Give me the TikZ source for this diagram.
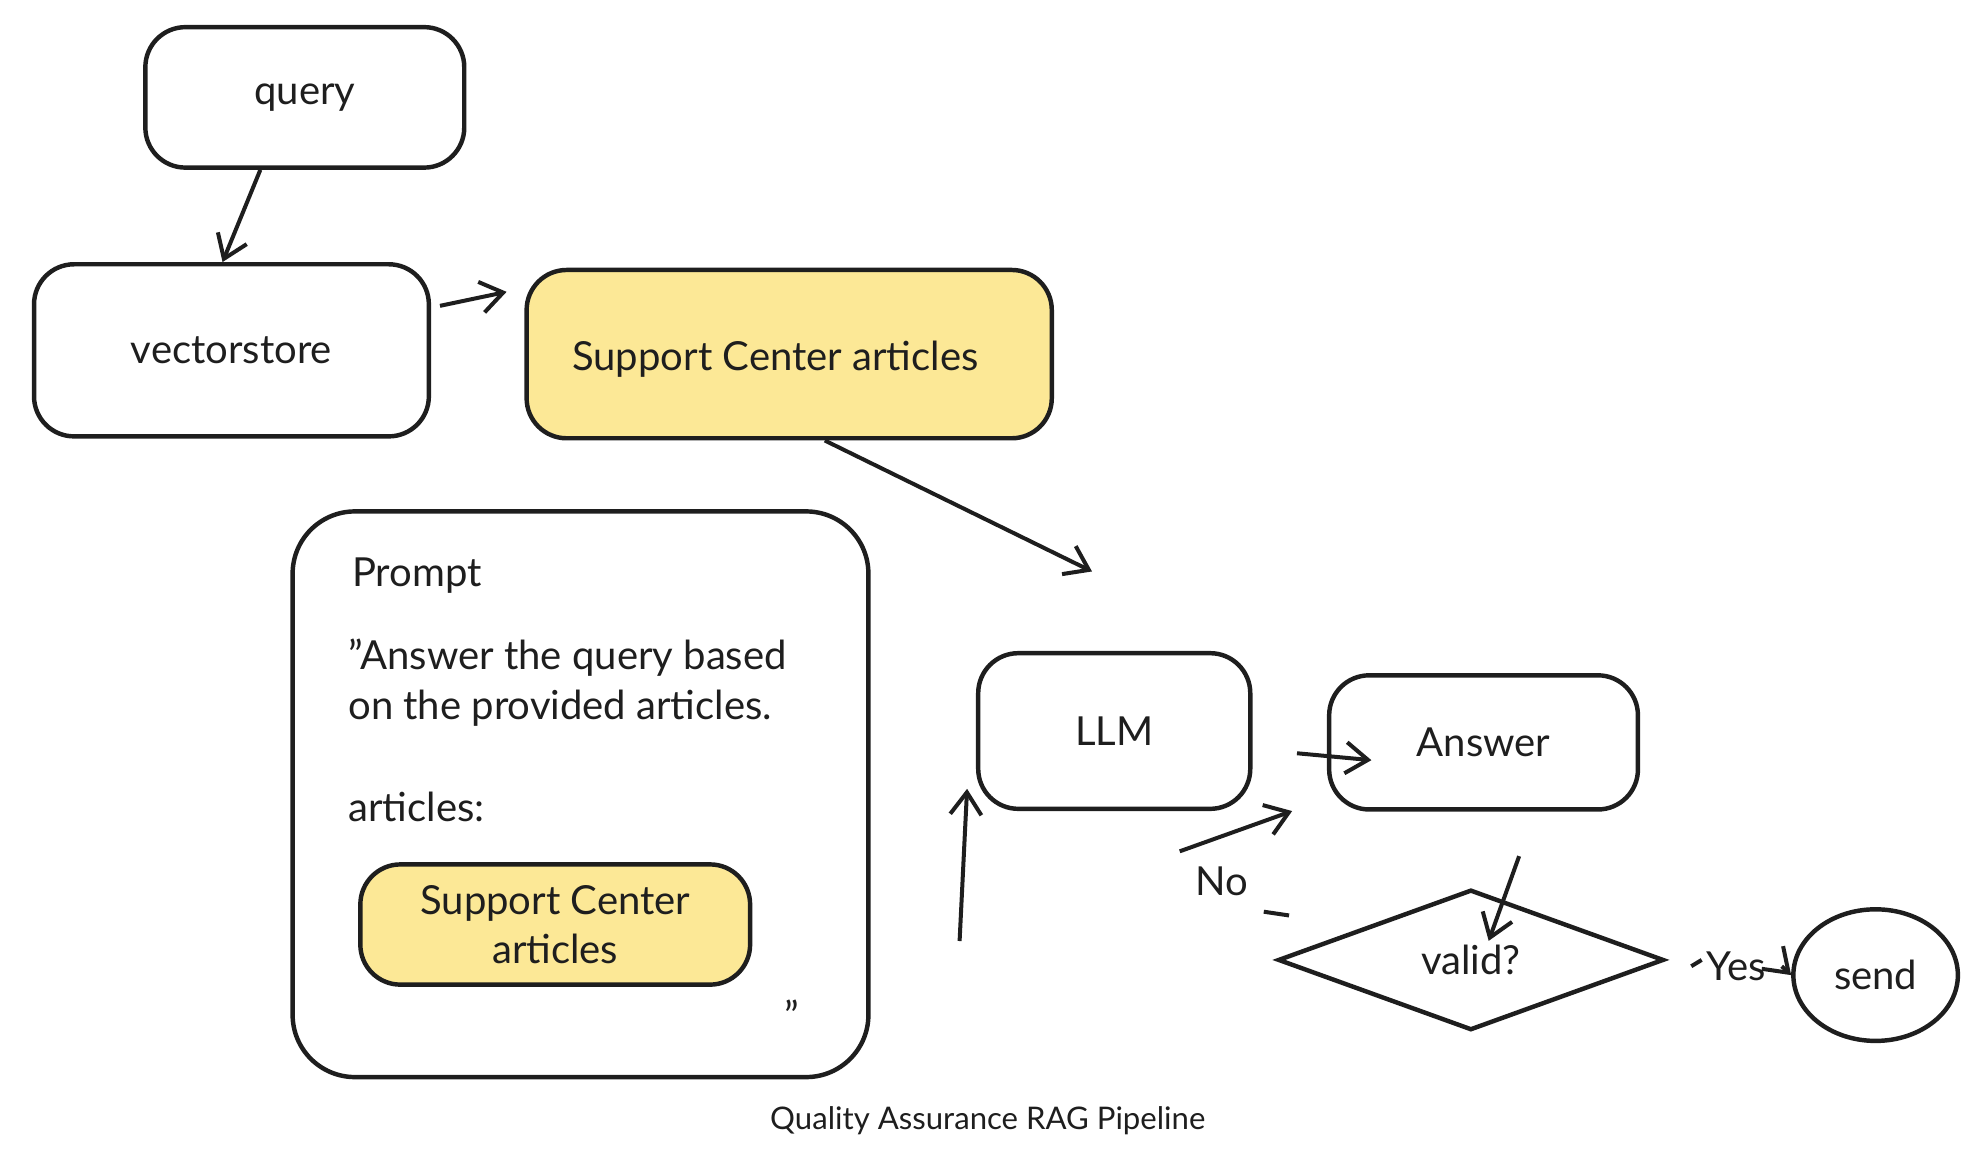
\documentclass[tikz,border=0pt]{standalone}
\usepackage{fontspec}
\setmainfont{Lato}
\usetikzlibrary{shapes.geometric,arrows.meta}
\definecolor{yel}{HTML}{FCE896}
\definecolor{ink}{HTML}{1E1E1E}
\begin{document}
\begin{tikzpicture}[x=0.01cm,y=-0.01cm,
  box/.style={draw=ink,line width=1pt,rounded corners=9pt,inner sep=0pt},
  txt/.style={font=\fontsize{9}{11}\selectfont,text=ink},
  arr/.style={draw=ink,line width=0.9pt,-{Straight Barb[length=5pt,width=7pt]}},
  ln/.style={draw=ink,line width=0.9pt}]
\useasboundingbox (0,0) rectangle (1560,910);
\node[box,minimum width=2.52cm,minimum height=1.11cm] (query) at (241,77) {};
\node[txt] at (query) {query};
\node[box,minimum width=3.12cm,minimum height=1.36cm] (vs) at (183,277) {};
\node[txt] at (vs) {vectorstore};
\node[box,fill=yel,minimum width=4.15cm,minimum height=1.33cm] (sca) at (624,280) {};
\node[txt,anchor=west] at (440,284) {Support Center articles};
\node[box,rounded corners=14pt,minimum width=4.55cm,minimum height=4.47cm] (prompt) at (459,628) {};
\node[txt,anchor=west] (pt) at (266,455) {Prompt};
\node[txt,anchor=west] (p1) at (263,520) {"Answer the query based};
\node[txt,anchor=west] (p2) at (263,560) {on the provided articles.};
\node[txt,anchor=west] (p3) at (263,638) {articles:};
\node[box,fill=yel,minimum width=3.08cm,minimum height=0.95cm] (inner) at (439,731) {};
\node[txt,align=center] at (inner) {Support Center\\articles};
\node[txt] (q) at (626,803) {"};
\node[box,minimum width=2.15cm,minimum height=1.23cm] (llm) at (881,578) {};
\node[txt] at (llm) {LLM};
\node[box,minimum width=2.44cm,minimum height=1.06cm] (ans) at (1173,587) {};
\node[txt] at (ans) {Answer};
\node[draw=ink,line width=1pt,diamond,aspect=2.75,minimum width=3.05cm,minimum height=1.11cm,inner sep=0pt] (valid) at (1163,759) {};
\node[txt] at (valid) {valid?};
\node[draw=ink,line width=1pt,ellipse,minimum width=1.3cm,minimum height=1.04cm,inner sep=0pt] (send) at (1483,771) {};
\node[txt] at (send) {send};
\node[font=\fontsize{7}{9}\selectfont,text=ink] (cap) at (781,886) {Quality Assurance RAG Pipeline};
% connectors
\draw[arr] ([xshift=-10]query.south) -- ([xshift=-2]vs.north);
\draw[arr] ([xshift=2,yshift=10]vs.east) -- ([xshift=-4,yshift=14]sca.west);
\draw[arr] ([xshift=8]sca.south) -- ([xshift=115,yshift=-14]prompt.north);
\draw[arr] ([xshift=20,yshift=-33]prompt.east) -- ([xshift=-2,yshift=-13]llm.west);
\draw[arr] ([xshift=10,yshift=-5]llm.east) -- ([xshift=10,yshift=-4]ans.west);
\draw[arr] ([xshift=8,yshift=-10]ans.south) -- ([xshift=4,yshift=-12]valid.north);
\node[txt] (no) at (966,697) {No};
\draw[ln] ([xshift=3,yshift=10]valid.west) -- (no.south east);
\draw[arr] (no.north west) -- ([xshift=40]llm.south);
\node[txt] (yes) at (1373,764) {Yes};
\draw[ln] ([xshift=8]valid.east) -- (yes.west);
\draw[arr] (yes.east) -- (send.west);
\end{tikzpicture}
\end{document}
